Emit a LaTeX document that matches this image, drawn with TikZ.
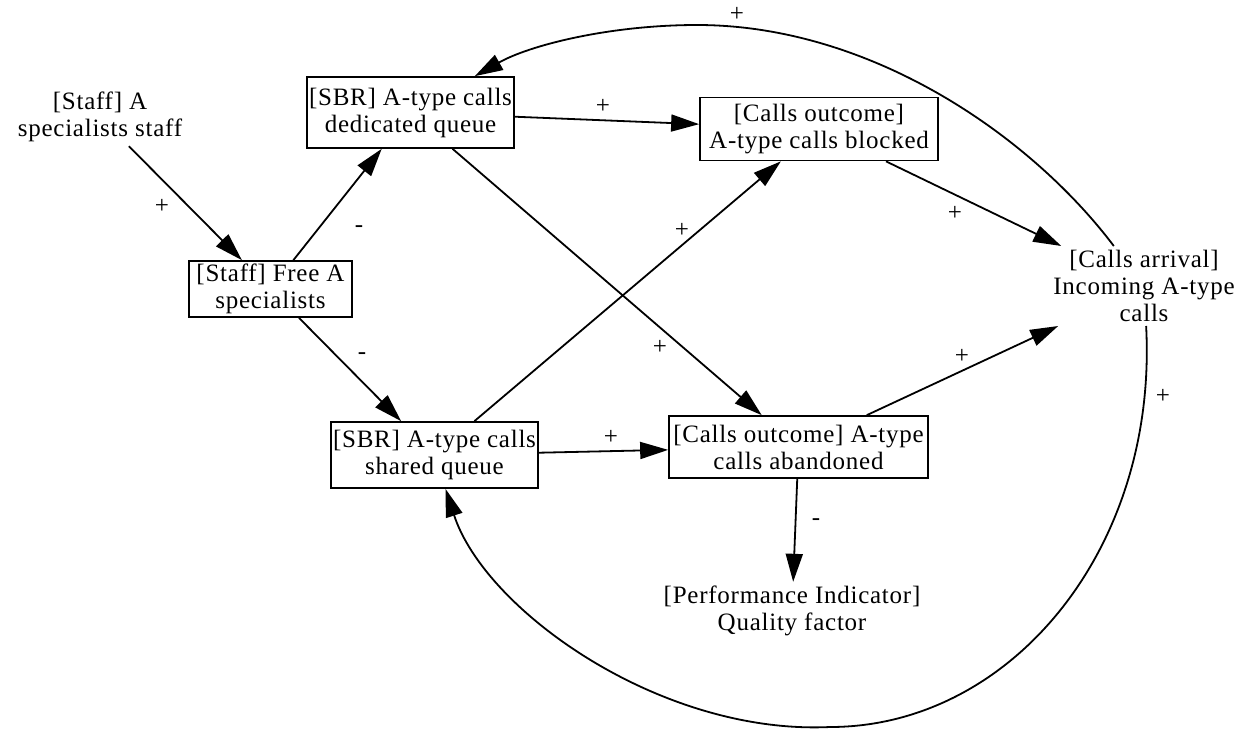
\documentclass[tikz,border=0pt]{standalone}
\usepackage{fontspec}
\setmainfont{Liberation Serif}[LetterSpace=3]
\usetikzlibrary{arrows.meta}
\begin{document}
\begin{tikzpicture}[x=1pt,y=-1pt,
  every node/.style={font=\fontsize{25}{27}\selectfont, align=center},
  var/.style={inner sep=4pt},
  box/.style={draw, line width=1.7pt, inner sep=2pt},
  link/.style={line width=1.8pt, -{Triangle[length=28pt,width=17pt]}},
  sign/.style={inner sep=0pt}]
\useasboundingbox (0,0) rectangle (1246,731);

% variables
\node[var] (staff) at (100,117) {[Staff] A\\specialists staff};
\node[box, minimum width=207pt, minimum height=71pt] (ded) at (410.5,112.5) {[SBR] A-type calls\\dedicated queue};
\node[box, minimum width=238pt, minimum height=63pt] (blk) at (819,129) {[Calls outcome]\\A-type calls blocked};
\node[box, minimum width=163pt, minimum height=56pt] (free) at (270.5,289) {[Staff] Free A\\specialists};
\node[box, minimum width=207pt, minimum height=66pt] (shr) at (434.5,455) {[SBR] A-type calls\\shared queue};
\node[box, minimum width=259pt, minimum height=62pt] (abn) at (798.5,447) {[Calls outcome] A-type\\calls abandoned};
\node[var] (arr) at (1144,286) {[Calls arrival]\\Incoming A-type\\calls};
\node[var] (perf) at (792,611) {[Performance Indicator]\\Quality factor};

% causal links
\draw[link] (staff) -- (free);
\draw[link] (free) -- (ded);
\draw[link] (free) -- (shr);
\draw[link] (ded) -- (blk);
\draw[link] (ded) -- (abn);
\draw[link] (shr) -- (blk);
\draw[link] (shr) -- (abn);
\draw[link] (blk) -- (arr);
\draw[link] (abn) -- (arr);
\draw[link] (abn) -- (perf);
\draw[link] (arr) .. controls (1030,135) and (870,25) .. (697,25)
                  .. controls (610,25) and (530,45) .. (ded);
\draw[link] (arr) .. controls (1158,550) and (1010,727) .. (830,727)
                  .. controls (660,735) and (485,610) .. (shr);

% polarities
\node[sign] (s1) at (162,206) {+};
\node[sign] (s2) at (359,229) {-};
\node[sign] (s3) at (362,356) {-};
\node[sign] (s4) at (603,106) {+};
\node[sign] (s5) at (660,347) {+};
\node[sign] (s6) at (682,230) {+};
\node[sign] (s7) at (611,437) {+};
\node[sign] (s8) at (955,213) {+};
\node[sign] (s9) at (962,356) {+};
\node[sign] (s10) at (816,522) {-};
\node[sign] (s11) at (737,14) {+};
\node[sign] (s12) at (1163,396) {+};
\end{tikzpicture}
\end{document}
